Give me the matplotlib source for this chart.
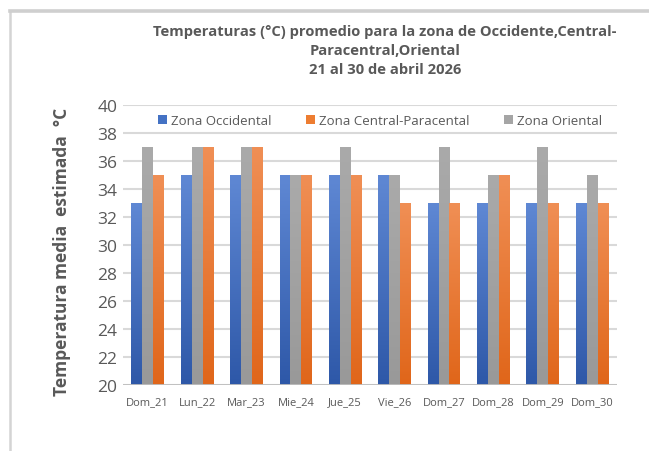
import numpy as np
import matplotlib
matplotlib.use("Agg")
import matplotlib.pyplot as plt
from matplotlib.colors import LinearSegmentedColormap

# Data
days = ["Dom_21", "Lun_22", "Mar_23", "Mie_24", "Jue_25",
        "Vie_26", "Dom_27", "Dom_28", "Dom_29", "Dom_30"]
occidental = [33, 35, 35, 35, 35, 35, 33, 33, 33, 33]
oriental = [37, 37, 37, 35, 37, 35, 37, 35, 37, 35]
central = [35, 37, 37, 35, 35, 33, 33, 35, 33, 33]

# (light top colour, dark bottom colour) for each series
series = [
    ("Zona Occidental", occidental, "#4472c4", ("#5f88d4", "#2e58a8")),
    ("Zona Oriental", oriental, "#a5a5a5", ("#aaaaaa", "#999999")),
    ("Zona Central-Paracental", central, "#ed7d31", ("#f08f55", "#e0661a")),
]

text_color = "#595959"
plt.rcParams["font.family"] = ["Open Sans", "DejaVu Sans"]

fig = plt.figure(figsize=(6.49, 4.52), dpi=100)

# outer chart border: a blank axes whose left and top spines form the frame
frame = fig.add_axes([10 / 649, -0.05, 1.0, 1 - 11.5 / 452 + 0.05])
frame.set_facecolor("none")
frame.set_xticks([])
frame.set_yticks([])
for side in ["right", "bottom"]:
    frame.spines[side].set_visible(False)
frame.spines["left"].set_color("#d4d4d4")
frame.spines["left"].set_linewidth(1.8)
frame.spines["top"].set_color("#cfcfcf")
frame.spines["top"].set_linewidth(2.6)

ax = fig.add_axes([0.1895, 0.146, 0.761, 0.62])

x = np.arange(len(days))
width = 0.22
handles = {}
for i, (name, vals, color, grad) in enumerate(series):
    bars = ax.bar(x + (i - 1) * width, np.array(vals) - 20, width, bottom=20,
                  color=color, zorder=3, label=name)
    handles[name] = bars
    cmap = LinearSegmentedColormap.from_list(name, [grad[1], grad[0]])
    grad_img = np.linspace(0, 1, 100).reshape(-1, 1)
    for b in bars:
        bx, by = b.get_x(), b.get_y()
        im = ax.imshow(grad_img, cmap=cmap, aspect="auto", origin="lower",
                       extent=[bx, bx + b.get_width(), by, by + b.get_height()],
                       zorder=3.5)
        im.set_clip_path(b)

ax.set_xlim(-0.5, len(days) - 0.5)
ax.set_ylim(20, 40)
ax.set_yticks(range(20, 41, 2))
ax.grid(axis="y", color="#d9d9d9", linewidth=1.5, zorder=0)
ax.axhline(20, color="#bfbfbf", linewidth=2, zorder=4)
for s in ax.spines.values():
    s.set_visible(False)

ax.set_xticks(x)
ax.set_xticklabels(days, fontsize=8, color=text_color)
ax.tick_params(axis="x", length=0, pad=8)
ax.tick_params(axis="y", length=0, labelsize=12.5, labelcolor=text_color, pad=4)

ax.set_ylabel("Temperatura media  estimada  °C", fontsize=12.5, fontweight="bold",
              color=text_color)
ax.yaxis.set_label_coords(-0.105, 0.48)

fig.text(0.593, 0.887,
         "Temperaturas (°C) promedio para la zona de Occidente,Central-\n"
         "Paracentral,Oriental\n21 al 30 de abril 2026",
         ha="center", va="center", fontsize=10.6, fontweight="bold",
         color=text_color, linespacing=1.45)

order = ["Zona Occidental", "Zona Central-Paracental", "Zona Oriental"]
ax.legend([handles[n] for n in order], order, loc="upper center",
          bbox_to_anchor=(0.52, 1.01), ncol=3, frameon=False, fontsize=9.5,
          labelcolor=text_color, handlelength=0.7, handleheight=0.7,
          handletextpad=0.3, columnspacing=2.6)

fig.savefig("out.png", dpi=100)
